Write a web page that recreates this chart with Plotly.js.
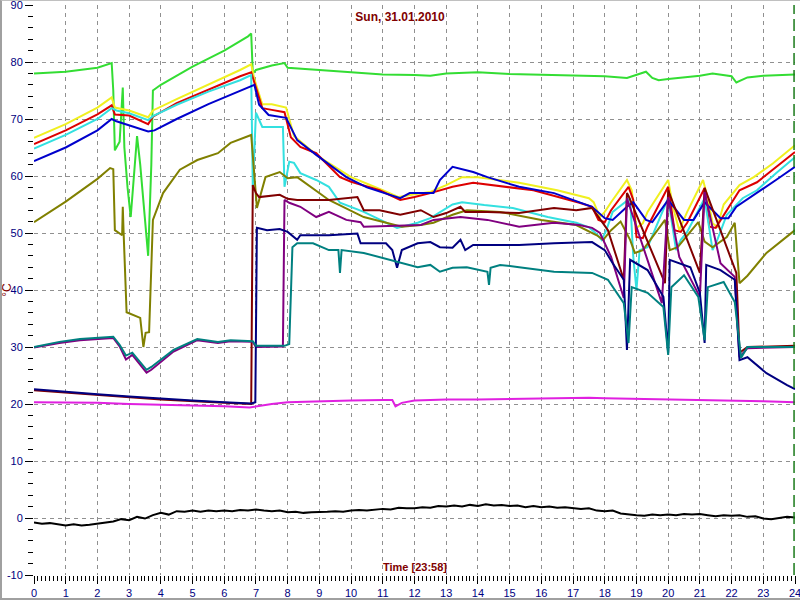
<!DOCTYPE html>
<html>
<head>
<meta charset="utf-8">
<script src="https://cdn.plot.ly/plotly-3.0.1.min.js"></script>
<style>
  html, body { margin: 0; padding: 0; background: #ffffff; }
  #wrap { position: relative; width: 800px; height: 600px; }
  #chart { position: absolute; left: 0; top: 0; width: 800px; height: 600px; }
  #frame { position: absolute; left: 0; top: 0; width: 800px; height: 600px; box-sizing: border-box;
           border-left: 2px solid #a0a0a0; border-top: 1px solid #c0c0c0; border-bottom: 2px solid #a0a0a0;
           pointer-events: none; }
</style>
</head>
<body>
<div id="wrap"><div id="chart"></div><div id="frame"></div></div>
<script>
// ---- Data (hours of day, °C) ----
const chartTitle = "Sun, 31.01.2010";
const xTitle = "Time [23:58]";
const yTitle = "°C";
const hourTicks = [0,1,2,3,4,5,6,7,8,9,10,11,12,13,14,15,16,17,18,19,20,21,22,23,24];
const tempTicks = [-10,0,10,20,30,40,50,60,70,80,90];

const greenX = [0,1,2,2.45,2.5,2.55,2.7,2.8,2.85,2.95,3.05,3.15,3.25,3.35,3.5,3.6,3.7,3.75,4.0,5.0,6.0,6.75,6.85,6.9,7.0,7.5,7.9,8.0,9,10,11,12,12.5,13,14,15,16,17,18,18.7,19.0,19.3,19.5,19.7,20.0,20.5,21.0,21.4,21.6,22.0,22.15,22.5,23,24];
const greenY = [78.0,78.3,79.0,79.8,75.0,64.5,66.0,75.5,65.0,58.0,52.8,60.0,67.0,62.0,52.0,46.0,62.0,75.0,76.0,79.2,82.0,84.5,85.0,78.0,78.6,79.4,79.8,79.0,78.6,78.2,77.8,77.7,77.6,78.0,78.2,77.9,77.8,77.7,77.5,77.2,77.8,78.3,77.2,76.8,77.0,77.3,77.6,78.0,77.8,77.5,76.4,77.3,77.6,77.8];

const yellowX = [0,1,2,2.45,2.55,3.0,3.6,3.75,4.5,5.5,6.5,6.85,6.95,7.2,7.5,7.95,8.2,9.0,10.0,11.0,11.5,12.0,12.5,13.0,13.5,14.0,15.3,16.5,17.5,17.65,17.85,18.0,18.2,18.7,18.85,19.0,19.2,19.35,20.0,20.15,20.35,20.6,21.1,21.25,21.4,21.55,21.75,22.25,22.7,23.3,24];
const yellowY = [66.7,69.1,72.0,73.8,72.0,71.5,70.3,71.5,73.5,76.0,78.6,79.6,77.0,72.6,72.6,72.0,67.0,63.3,59.8,57.5,56.3,56.8,57.2,58.4,59.8,59.8,58.8,57.5,56.1,55.4,52.8,53.7,55.4,59.3,57.5,50.9,51.7,53.7,59.3,54.6,50.5,53.7,59.3,56.1,51.7,51.1,55.0,58.4,59.8,62.2,65.4];

const redX = [0,1,2,2.45,2.55,3.0,3.6,3.75,4.5,5.5,6.5,6.85,7.1,7.2,7.5,7.9,8.1,8.4,8.9,9.65,10.0,10.9,11.55,12.0,12.5,13.2,13.85,14.5,15.75,17.2,17.6,17.8,18.0,18.2,18.75,18.9,19.0,19.2,19.35,20.0,20.2,20.4,20.6,21.15,21.3,21.5,21.7,22.25,22.8,23.4,24];
const redY = [65.6,68.0,70.8,72.4,70.8,70.6,69.1,70.4,72.8,75.2,77.5,78.2,73.9,71.9,71.6,71.2,66.8,65.1,64.0,59.8,59.0,57.5,55.8,56.3,57.0,58.1,58.8,58.4,57.5,55.3,54.6,52.3,51.9,54.0,58.1,55.8,49.3,49.1,51.1,58.1,50.5,50.2,51.8,57.9,51.1,50.9,52.6,57.5,58.9,61.5,64.2];

const cyanX = [0,1,2,2.45,2.6,3.0,3.6,3.75,4.5,5.5,6.5,6.85,6.9,7.0,7.2,7.85,7.9,8.05,8.2,8.4,8.9,9.3,9.65,10.4,11.45,12.1,12.5,13.2,13.5,14.2,15.1,16.2,17.1,17.5,17.75,17.9,18.05,18.25,18.8,18.9,19.0,19.1,19.35,20.0,20.25,20.4,20.6,21.15,21.4,21.55,21.85,22.35,22.8,23.4,24];
const cyanY = [64.8,67.2,70.0,71.9,71.5,71.0,69.8,70.5,72.5,74.8,76.8,77.7,58.1,71.1,68.6,68.6,58.1,62.5,62.3,60.5,59.3,58.1,55.3,53.7,50.9,51.8,52.6,55.0,55.4,54.9,54.4,52.8,51.8,51.0,49.8,48.8,50.5,53.7,56.1,45.8,40.0,47.0,47.5,56.1,47.0,48.8,50.2,56.1,47.0,48.8,53.2,56.1,57.5,60.5,63.3];

const blueX = [0,1,2,2.45,2.6,3.6,3.8,4.5,5.5,6.5,6.85,6.95,7.1,7.4,7.95,8.3,8.9,9.85,10.5,11.55,11.85,12.2,12.6,12.8,13.2,13.85,14.3,15.3,16.4,17.45,17.6,18.0,18.25,18.7,18.9,19.3,19.5,20.0,20.5,20.8,21.15,21.65,21.9,22.15,22.8,23.4,24];
const blueY = [62.6,65.0,68.0,70.0,69.6,67.8,68.0,70.0,72.6,75.0,75.8,76.0,72.5,70.7,70.2,66.3,63.7,59.8,58.0,56.1,57.0,57.0,57.0,59.3,61.6,60.7,59.8,58.1,57.0,54.9,54.6,52.6,52.3,54.6,55.4,52.3,51.9,55.8,52.3,52.3,55.4,52.6,52.6,54.6,57.0,59.3,61.6];

const oliveX = [0,1,2,2.4,2.5,2.55,2.78,2.8,2.83,2.92,3.35,3.45,3.52,3.63,3.75,4.07,4.6,5.15,5.8,6.2,6.85,7.03,7.3,7.75,8.0,8.3,9.3,10.4,11.6,12.2,12.6,13.2,13.65,14.7,16.0,17.1,17.75,17.95,18.2,18.5,18.8,18.95,19.2,19.9,20.05,20.3,20.95,21.15,21.4,21.85,22.1,22.25,22.5,23.1,24];
const oliveY = [51.9,55.5,59.5,61.4,61.2,50.5,49.6,54.6,49.5,36.1,35.1,30.0,32.5,32.6,52.3,57.0,61.1,62.8,64.0,65.8,67.2,54.4,59.8,60.7,59.6,59.8,55.8,52.8,51.1,51.4,51.8,53.2,54.0,53.7,52.3,51.4,49.6,48.8,50.5,52.0,48.8,46.5,47.0,52.3,47.0,47.5,51.9,48.5,47.5,49.3,51.8,41.2,42.5,46.5,50.5];

const maroonX = [0,2,4,6,6.85,6.9,7.0,7.1,7.4,7.75,8.0,8.3,9.3,10.2,10.4,10.9,11.55,12.2,12.6,13.0,13.45,13.6,14.3,15.3,16.4,17.1,17.6,18.1,18.6,18.7,18.75,19.9,20.0,21.0,21.15,22.15,22.25,22.5,24];
const maroonY = [22.4,21.6,20.8,20.2,20.0,58.4,57.0,56.3,56.5,56.7,56.0,55.8,55.8,56.3,54.0,54.0,53.2,54.0,52.8,53.5,54.6,53.7,53.7,53.5,54.4,54.0,54.4,50.5,41.8,57.0,56.5,41.2,57.5,43.0,57.9,43.0,29.0,30.0,30.2];

const purpleX = [0,0.8,1.45,2.5,2.7,2.9,3.1,3.55,3.7,4.4,5.15,5.8,6.2,6.9,7.0,7.85,7.9,8.05,8.4,8.9,9.3,9.85,10.3,10.4,12.2,12.6,13.45,14.3,15.3,16.4,17.2,17.6,17.85,18.2,18.6,18.7,19.8,20.0,20.35,21.0,21.15,21.65,22.1,22.25,22.5,24];
const purpleY = [29.9,30.7,31.2,31.6,30.1,27.8,28.6,25.5,26.0,29.2,31.2,30.7,31.0,30.9,30.0,30.1,55.8,55.3,54.6,52.8,53.7,52.3,51.9,51.1,51.4,52.3,52.8,52.3,51.1,51.8,51.4,50.9,50.0,45.8,38.6,56.1,37.7,56.3,45.8,38.8,57.2,44.7,42.3,28.2,29.8,30.0];

const navyX = [0,1,2,3,4,5,6,6.85,6.98,7.03,7.35,7.75,8.0,8.3,8.4,9.3,10.2,10.3,11.1,11.3,11.45,11.6,12.1,12.5,12.8,13.2,13.45,13.6,13.85,15.3,16.4,17.6,18.0,18.25,18.6,18.7,18.8,19.35,19.85,20.0,20.05,20.7,21.0,21.15,21.2,21.65,22.1,22.25,22.5,23.1,23.75,24];
const navyY = [22.6,22.1,21.7,21.3,20.9,20.6,20.3,20.1,20.3,50.9,50.5,50.7,50.2,48.8,49.6,49.6,49.9,48.2,48.2,47.0,43.9,47.0,48.2,48.4,47.5,47.4,48.8,47.0,47.9,47.9,48.2,48.4,47.0,44.7,41.8,29.5,45.3,43.5,38.8,29.0,45.3,44.0,39.5,30.7,44.4,43.5,41.8,27.7,28.2,25.4,23.3,22.6];

const tealX = [0,0.8,1.45,2.5,2.7,2.9,3.1,3.55,3.7,4.4,5.15,5.8,6.2,6.9,7.0,7.9,8.05,8.15,8.3,8.8,9.3,9.6,9.65,9.7,10.4,11.2,12.1,12.5,12.8,13.2,13.65,14.3,14.35,14.4,14.7,15.3,16.4,17.6,18.1,18.6,18.75,18.85,19.35,19.85,20.0,20.1,20.5,20.95,21.15,21.25,21.75,22.1,22.3,22.5,24];
const tealY = [30.0,30.9,31.4,31.8,30.4,28.5,29.0,26.0,26.5,29.5,31.4,30.9,31.2,31.0,30.2,30.2,30.5,47.5,48.2,48.2,47.0,47.0,43.0,47.0,46.5,45.3,44.0,44.4,43.2,43.9,44.0,43.2,40.9,43.9,44.4,44.0,43.2,43.0,41.8,37.7,30.7,40.5,39.5,37.0,28.6,40.5,42.6,38.8,31.2,40.5,41.4,37.9,28.1,30.0,30.0];

const magentaX = [0,1,2,3,4,5,6,6.8,7.0,7.5,8,9,10,11,11.3,11.4,11.6,12,13,14,15,16,17,17.5,18,19,20,21,22,23,24];
const magentaY = [20.3,20.3,20.2,20.0,19.9,19.8,19.6,19.4,19.6,20.0,20.3,20.5,20.6,20.7,20.7,19.6,20.2,20.6,20.8,20.8,20.9,21.0,21.0,21.1,21.0,20.9,20.8,20.8,20.7,20.5,20.3];

const blackX = [0,0.25,0.5,0.75,1,1.25,1.5,1.75,2,2.25,2.5,2.75,3,3.25,3.5,3.75,4,4.25,4.5,4.75,5,5.25,5.5,5.75,6,6.25,6.5,6.75,7,7.25,7.5,7.75,8,8.25,8.5,8.75,9,9.25,9.5,9.75,10,10.25,10.5,10.75,11,11.25,11.5,11.75,12,12.25,12.5,12.75,13,13.25,13.5,13.75,14,14.25,14.5,14.75,15,15.25,15.5,15.75,16,16.25,16.5,16.75,17,17.25,17.5,17.75,18,18.25,18.5,18.75,19,19.25,19.5,19.75,20,20.25,20.5,20.75,21,21.25,21.5,21.75,22,22.25,22.5,22.75,23,23.25,23.5,23.75,24];
const blackY = [-0.8,-1.0,-0.9,-1.1,-1.3,-1.1,-1.3,-1.2,-1.0,-0.8,-0.6,-0.2,-0.4,0.2,-0.1,0.5,0.9,0.6,1.2,1.1,1.3,1.1,1.3,1.2,1.3,1.2,1.4,1.3,1.5,1.3,1.2,1.3,1.0,1.1,0.9,1.0,1.0,1.1,1.2,1.1,1.3,1.4,1.3,1.5,1.6,1.5,1.8,1.7,1.7,1.9,1.8,2.1,2.0,2.2,2.0,2.3,2.1,2.4,2.2,2.3,2.1,2.2,1.9,2.1,1.9,2.0,1.8,1.9,1.7,1.6,1.7,1.3,1.2,1.3,0.8,0.6,0.5,0.4,0.6,0.5,0.6,0.5,0.7,0.6,0.7,0.5,0.3,0.5,0.4,0.5,0.2,0.3,-0.1,-0.2,0.0,0.2,0.1];

// ---- Traces (draw order) ----
function line(x, y, color, w) {
  return { type: 'scatter', mode: 'lines', x: x, y: y, line: { color: color, width: w || 2 }, hoverinfo: 'skip' };
}
const traces = [
  line(blackX, blackY, '#000000', 2),
  line(magentaX, magentaY, '#e020e0', 2),
  line(greenX, greenY, '#33dd33', 2),
  line(yellowX, yellowY, '#f0f020', 2),
  line(redX, redY, '#dd0000', 2),
  line(cyanX, cyanY, '#33e0e0', 2),
  line(blueX, blueY, '#0000cc', 2),
  line(oliveX, oliveY, '#808000', 2),
  line(maroonX, maroonY, '#800000', 2),
  line(purpleX, purpleY, '#800080', 2),
  line(navyX, navyY, '#000080', 2),
  line(tealX, tealY, '#008080', 2)
];

const tickFont = { family: 'Arial, "Liberation Sans", sans-serif', size: 11, color: '#000080' };
const layout = {
  width: 800, height: 600,
  paper_bgcolor: '#ffffff', plot_bgcolor: '#ffffff',
  margin: { l: 34, r: 5, t: 5, b: 25 },
  showlegend: false,
  title: { text: '<b>' + chartTitle + '</b>', x: 0.5, xanchor: 'center', y: 0.972, yanchor: 'middle',
           font: { family: 'Arial, "Liberation Sans", sans-serif', size: 12, color: '#800000' } },
  xaxis: {
    range: [0, 24], tickvals: hourTicks, ticktext: hourTicks.map(String),
    showgrid: true, gridcolor: '#909090', gridwidth: 1, griddash: '4px,4px',
    zeroline: false, showline: false,
    ticks: 'outside', ticklen: 8, tickwidth: 1, tickcolor: '#000000',
    tickfont: tickFont, ticklabeloverflow: 'allow',
    minor: { dtick: 0.125, ticks: 'outside', ticklen: 5, tickwidth: 1, tickcolor: '#000000', showgrid: false },
    fixedrange: true
  },
  yaxis: {
    range: [-10, 90], tickvals: tempTicks, ticktext: tempTicks.map(String),
    showgrid: true, gridcolor: '#909090', gridwidth: 1, griddash: '4px,4px',
    zeroline: false, showline: false,
    ticks: 'outside', ticklen: 8, tickwidth: 1, tickcolor: '#000000',
    tickfont: tickFont, ticklabeloverflow: 'allow',
    minor: { dtick: 2, ticks: 'outside', ticklen: 5, tickwidth: 1, tickcolor: '#000000', showgrid: false },
    title: { text: yTitle, standoff: 0, font: { family: 'Arial, "Liberation Sans", sans-serif', size: 12, color: '#800000' } },
    fixedrange: true
  },
  annotations: [{
    text: '<b>' + xTitle + '</b>', xref: 'paper', yref: 'paper', x: 0.5, y: 0, xanchor: 'center', yanchor: 'bottom',
    yshift: 0, showarrow: false,
    font: { family: 'Arial, "Liberation Sans", sans-serif', size: 11, color: '#800000' }
  }],
  shapes: [{
    type: 'line', xref: 'x', yref: 'paper', x0: 23.97, x1: 23.97, y0: 0, y1: 1,
    line: { color: '#1a7a1a', width: 1.5, dash: '12px,5px' }
  }]
};

Plotly.newPlot('chart', traces, layout, { displayModeBar: false, staticPlot: true });
</script>
</body>
</html>
